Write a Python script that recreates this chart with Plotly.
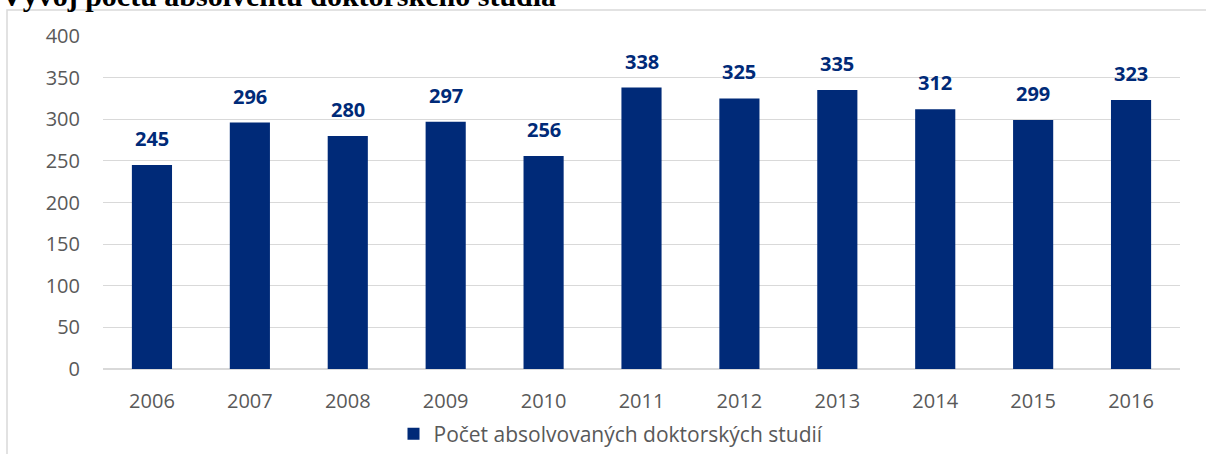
import plotly.graph_objects as go

years = ["2006", "2007", "2008", "2009", "2010", "2011", "2012", "2013", "2014", "2015", "2016"]
values = [245, 296, 280, 297, 256, 338, 325, 335, 312, 299, 323]
series_name = "Počet absolvovaných doktorských studií"
title_text = "Vývoj počtu absolventů doktorského studia"

W, H = 1206, 454
ml, mr, mt, mb = 103, 26, 36, 85
pw, ph = W - ml - mr, H - mt - mb

def px_x(p):
    return (p - ml) / pw

def px_y(p):
    return 1 - (p - mt) / ph

navy = "#002A78"
grey_txt = "#595959"
font_fam = "Open Sans, Liberation Sans"

fig = go.Figure()
fig.add_trace(go.Bar(
    x=years, y=values, name=series_name,
    marker=dict(color=navy, line=dict(width=0)),
    cliponaxis=False,
))

for i, v in enumerate(values):
    fig.add_annotation(x=i, y=v, xref="x", yref="y", text=str(v), showarrow=False,
                       yanchor="bottom", yshift=11,
                       font=dict(family=font_fam, size=20, color=navy, weight="bold"))

fig.update_layout(
    width=W, height=H,
    margin=dict(l=ml, r=mr, t=mt, b=mb, autoexpand=False),
    paper_bgcolor="white", plot_bgcolor="white",
    bargap=0.59,
    showlegend=True,
    legend=dict(orientation="h", x=px_x(611), xanchor="center", y=px_y(434), yanchor="middle",
                font=dict(family=font_fam, size=21, color=grey_txt),
                itemwidth=30),
    xaxis=dict(type="category", range=[-0.5, len(years) - 0.5], autorange=False,
               showgrid=False, showline=False, ticks="",
               ticklabelstandoff=18,
               tickfont=dict(family=font_fam, size=20, color=grey_txt)),
    yaxis=dict(range=[0, 400], dtick=50, showgrid=True, gridcolor="#D9D9D9", gridwidth=1,
               zeroline=True, zerolinecolor="#D9D9D9", zerolinewidth=1.5, showline=False,
               ticks="", ticklabelstandoff=22,
               tickfont=dict(family=font_fam, size=20, color=grey_txt)),
)

fig.add_shape(type="rect", xref="paper", yref="paper",
              x0=px_x(7), x1=px_x(1220), y0=px_y(10), y1=px_y(470),
              line=dict(color="#D9D9D9", width=1.5), fillcolor="rgba(0,0,0,0)", layer="below")

fig.add_annotation(text=title_text, xref="paper", yref="paper",
                   x=px_x(-1), xanchor="left", y=px_y(14), yanchor="bottom",
                   showarrow=False,
                   font=dict(family="Liberation Serif", size=30, color="black", weight="bold"))

fig.write_html("out.html", config={"displayModeBar": False},
               post_script="document.body.style.margin='0';document.body.style.overflow='hidden';")
